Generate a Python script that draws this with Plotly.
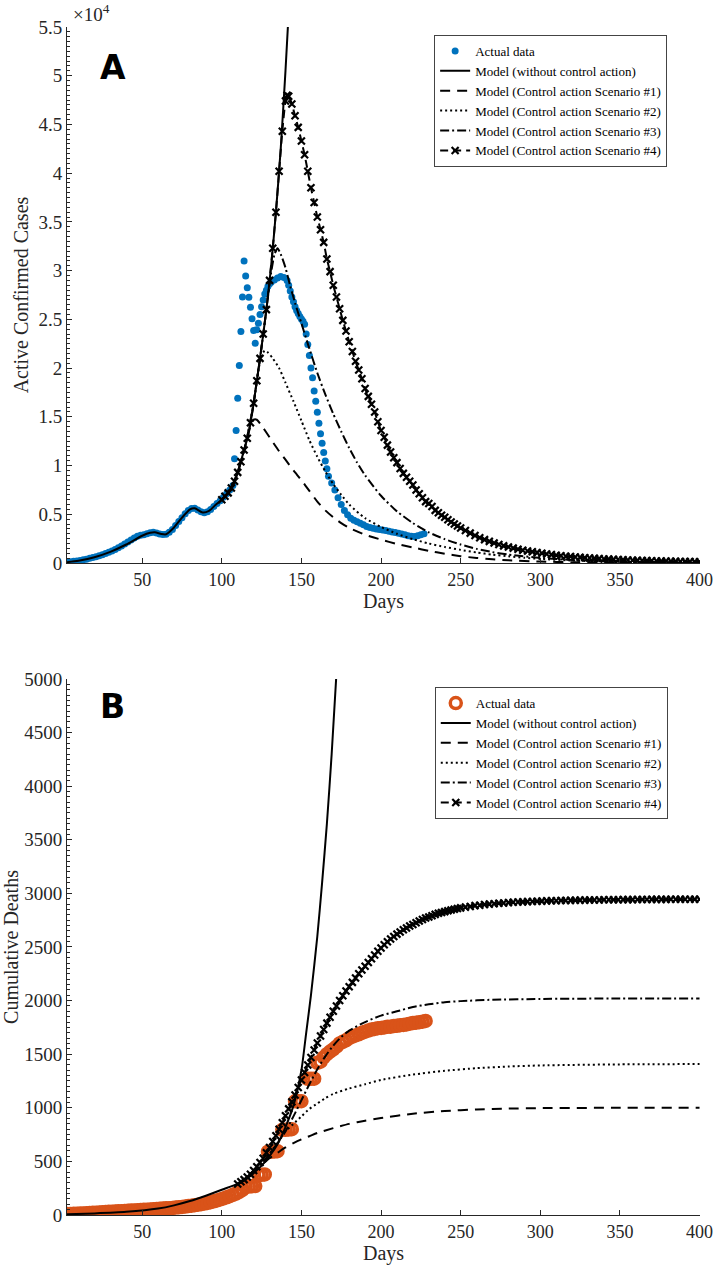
import plotly.graph_objects as go

# ---------------- Panel A: active confirmed cases ----------------
act_a_days = list(range(1, 108, 2)) + list(range(108, 132)) + [133, 135, 137, 139, 141] + list(range(142, 168)) + list(range(169, 228, 2))
act_a_vals = [60, 90, 130, 170, 220, 270, 330, 400, 480, 560,
              650, 750, 860, 980, 1100, 1240, 1390, 1560, 1740, 1940,
              2150, 2360, 2560, 2740, 2850, 2900, 3000, 3100, 3150, 3080,
              2980, 2920, 2950, 3150, 3450, 3850, 4250, 4650, 5050, 5400,
              5600, 5620, 5450, 5250, 5150, 5250, 5500, 5800, 6100, 6400,
              6750, 7100, 7500, 7950,
              10700, 13600, 16900, 20270, 23760, 27300, 31000, 29450, 28250, 27280,
              26250, 25070, 23870, 22560, 23940, 24600, 25500, 26300, 27000, 27600,
              28000, 28400, 28650, 28800,
              29050, 29250, 29400, 29300, 29000,
              28500, 27900, 27300, 26800, 26300, 25900, 25600, 25300, 25050, 24800,
              24500, 23500, 22430, 21300, 20000, 19000, 17640, 16610, 15480, 14350,
              13270, 12300, 11350, 10460, 9670, 8900,
              8200, 7500, 6700, 6000, 5400, 4950, 4600, 4380, 4230, 4080,
              3920, 3760, 3640, 3560, 3500, 3440, 3380, 3330, 3260, 3190,
              3120, 3060, 2980, 2900, 2810, 2740, 2730, 2800, 2900, 3000]

free_a_days = [1, 10, 20, 30, 40, 50, 55, 58, 62, 65, 70, 75, 80, 83, 88, 92, 96, 100, 104, 107,
               110, 113, 116, 119, 122, 125, 128, 131, 134, 137, 140, 142]
free_a_vals = [60, 230, 600, 1150, 1900, 2800, 3100, 3150, 2980, 2950, 3650, 4650, 5500, 5620, 5180,
               5350, 5950, 6500, 7200, 7950, 9300, 11000, 12800, 15300, 18700, 22200, 26000, 30500,
               36000, 42500, 50500, 56500]

s1_a_days = [100, 105, 110, 115, 118, 120, 122, 125, 130, 135, 140, 145, 150, 155, 160, 165, 170, 175,
             180, 190, 200, 210, 220, 230, 240, 250, 260, 270, 280, 300, 320, 340, 360, 380, 400]
s1_a_vals = [6500, 7400, 9300, 12200, 14000, 14700, 14700, 14100, 12900, 11700, 10600, 9500, 8500, 7400,
             6300, 5400, 4700, 4100, 3600, 2900, 2400, 1950, 1600, 1250, 950, 700, 520, 380, 280, 150,
             80, 45, 25, 15, 10]

s2_a_days = [100, 105, 110, 115, 120, 123, 125, 127, 129, 132, 136, 140, 145, 150, 155, 160, 165, 170,
             175, 180, 190, 200, 210, 220, 230, 240, 250, 260, 270, 280, 290, 300, 320, 340, 360, 380, 400]
s2_a_vals = [6500, 7400, 9300, 12200, 16400, 19800, 21300, 21800, 21600, 21000, 20000, 18500, 16600,
             14600, 12600, 10900, 9400, 8100, 7000, 6000, 4600, 3700, 3000, 2450, 2000, 1650, 1350, 1080,
             860, 690, 540, 420, 260, 160, 100, 60, 40]

s3_a_days = [100, 105, 110, 115, 120, 125, 128, 131, 133, 135, 137, 140, 143, 146, 150, 155, 160, 165,
             170, 175, 180, 185, 190, 200, 210, 220, 230, 240, 250, 260, 270, 280, 300, 320, 340, 360, 380, 400]
s3_a_vals = [6500, 7400, 9300, 12200, 16400, 22200, 26000, 29800, 31600, 32300, 31700, 30300, 28400,
             26700, 24600, 22000, 19500, 17300, 15300, 13500, 11800, 10300, 9000, 6900, 5300, 4100, 3150,
             2450, 1900, 1450, 1120, 870, 520, 320, 200, 120, 80, 50]

s4_a_days = list(range(100, 141, 2)) + [141, 142] + list(range(144, 251, 2)) + list(range(253, 401, 3))
s4_a_vals = [6500, 6850, 7200, 7700, 8400, 9300, 10400, 11600, 12800, 14400,
             16400, 18700, 21000, 23500, 26000, 29000, 32300, 36000, 40200, 44300,
             47400, 48000, 47900,
             47100, 45900, 44700, 43300, 41900, 40200, 38500, 37000, 35500, 34200,
             32900, 31200, 29900, 28500, 27300, 26100, 24900, 23800, 22700, 21700,
             20700, 19800, 18900, 17900, 17100, 16300, 15500, 14500, 13600, 12900,
             12100, 11400, 10800, 10300, 9700, 9200, 8800, 8400, 8000, 7500,
             7100, 6700, 6300, 6100, 5800, 5400, 5150, 4900, 4700, 4450,
             4200, 4000, 3800, 3600,
             3330, 3070, 2830, 2600, 2400, 2220, 2060, 1900, 1760, 1650,
             1530, 1420, 1320, 1240, 1150, 1070, 1000, 920, 860, 800,
             750, 700, 660, 620, 580, 540, 510, 480, 450, 420,
             400, 375, 350, 330, 310, 290, 275, 260, 245, 230,
             215, 205, 195, 185, 175, 165, 155, 148, 140, 130]

# ---------------- Panel B: cumulative deaths ----------------
act_b_days = list(range(1, 114, 2)) + [115, 117, 119, 121, 123, 125, 127, 129, 131, 133, 135, 138, 140,
                                       142, 144, 146, 148, 150, 154, 156, 158] + list(range(160, 229, 2))
act_b_vals = [8, 9, 10, 11, 12, 14, 15, 17, 18, 20,
              22, 24, 26, 28, 30, 31, 33, 35, 36, 38,
              40, 41, 43, 44, 46, 48, 50, 52, 54, 56,
              58, 60, 62, 64, 66, 69, 72, 75, 79, 83,
              87, 91, 96, 101, 107, 113, 120, 128, 136, 145,
              155, 165, 176, 188, 200, 215, 235,
              265, 265, 268, 270, 375, 375, 378, 590, 590, 592, 595, 795, 795,
              797, 800, 1060, 1060, 1062, 1270, 1270, 1272,
              1420, 1430, 1470, 1500, 1525, 1545, 1570, 1600, 1615, 1630,
              1650, 1665, 1675, 1685, 1700, 1710, 1720, 1730, 1735, 1742,
              1745, 1750, 1755, 1757, 1762, 1765, 1770, 1773, 1778, 1785,
              1790, 1794, 1798, 1803, 1810]

free_b_days = [1, 20, 40, 60, 70, 80, 90, 100, 110, 115, 120, 125, 130, 135, 140, 145, 150, 153, 156,
               160, 163, 166, 169, 172]
free_b_vals = [5, 15, 30, 60, 90, 130, 180, 235, 290, 330, 390, 460, 550, 660, 820, 1020, 1350, 1700,
               2050, 2600, 3100, 3650, 4300, 5050]

s1_b_days = [110, 115, 120, 125, 130, 135, 140, 145, 150, 155, 160, 170, 180, 190, 200, 220, 240, 260,
             280, 300, 350, 400]
s1_b_vals = [290, 340, 410, 470, 530, 580, 630, 670, 705, 735, 765, 810, 850, 880, 905, 945, 970, 985,
             993, 997, 1000, 1000]

s2_b_days = [110, 115, 120, 125, 130, 135, 140, 145, 150, 155, 160, 165, 170, 180, 190, 200, 220, 240,
             260, 280, 300, 350, 400]
s2_b_vals = [290, 340, 410, 480, 570, 680, 780, 850, 920, 990, 1040, 1090, 1130, 1180, 1220, 1260,
             1310, 1345, 1370, 1385, 1395, 1405, 1408]

s3_b_days = [110, 115, 120, 125, 130, 135, 140, 145, 150, 155, 160, 165, 170, 175, 180, 190, 200, 210,
             220, 230, 240, 250, 270, 300, 350, 400]
s3_b_vals = [290, 340, 410, 480, 570, 670, 780, 920, 1070, 1220, 1360, 1480, 1580, 1660, 1720, 1800,
             1860, 1900, 1940, 1965, 1985, 1995, 2008, 2015, 2020, 2020]

s4_b_days = list(range(110, 251, 2)) + list(range(253, 401, 3))
s4_b_vals = [290, 310, 330, 355, 380, 415, 450, 490, 530, 580,
             630, 685, 740, 800, 860, 925, 990, 1055, 1120, 1190,
             1260, 1330, 1400, 1470, 1540, 1605, 1670, 1730, 1790, 1845,
             1900, 1950, 2000, 2045, 2090, 2130, 2170, 2210, 2250, 2285,
             2320, 2355, 2390, 2425, 2460, 2490, 2520, 2548, 2575, 2598,
             2620, 2640, 2660, 2678, 2695, 2710, 2726, 2742, 2756, 2770,
             2780, 2792, 2804, 2814, 2822, 2830, 2838, 2845, 2852, 2859,
             2865,
             2872, 2878, 2886, 2890, 2896, 2900, 2904, 2908, 2911, 2914,
             2917, 2919, 2921, 2923, 2925, 2927, 2928, 2930, 2931, 2932,
             2933, 2934, 2935, 2936, 2937, 2937, 2938, 2938, 2939, 2940,
             2940, 2941, 2941, 2942, 2942, 2942, 2943, 2943, 2943, 2944,
             2944, 2944, 2944, 2945, 2945, 2945, 2945, 2945, 2945, 2945]

a_ytick_vals = [0, 5000, 10000, 15000, 20000, 25000, 30000, 35000, 40000, 45000, 50000, 55000]
a_ytick_text = ["0", "0.5", "1", "1.5", "2", "2.5", "3", "3.5", "4", "4.5", "5", "5.5"]
b_ytick_vals = [0, 500, 1000, 1500, 2000, 2500, 3000, 3500, 4000, 4500, 5000]
x_tick_vals = [50, 100, 150, 200, 250, 300, 350, 400]

names = ["Actual data", "Model (without control action)", "Model (Control action Scenario #1)",
         "Model (Control action Scenario #2)", "Model (Control action Scenario #3)",
         "Model (Control action Scenario #4)"]

BLUE = "#0072BD"
ORANGE = "#D95319"
SERIF = "Liberation Serif, Times New Roman, serif"
AXC = "#262626"

fig = go.Figure()


def add_models(xa, ya, leg, free, s1, s2, s3, s4):
    fig.add_trace(go.Scatter(x=free[0], y=free[1], mode="lines", name=names[1], xaxis=xa, yaxis=ya,
                             legend=leg, line=dict(color="black", width=2, shape="spline", smoothing=0.6)))
    fig.add_trace(go.Scatter(x=s1[0], y=s1[1], mode="lines", name=names[2], xaxis=xa, yaxis=ya,
                             legend=leg, line=dict(color="black", width=2, dash="10px,7px", shape="spline", smoothing=0.6)))
    fig.add_trace(go.Scatter(x=s2[0], y=s2[1], mode="lines", name=names[3], xaxis=xa, yaxis=ya,
                             legend=leg, line=dict(color="black", width=2, dash="2px,3px", shape="spline", smoothing=0.6)))
    fig.add_trace(go.Scatter(x=s3[0], y=s3[1], mode="lines", name=names[4], xaxis=xa, yaxis=ya,
                             legend=leg, line=dict(color="black", width=2, dash="9px,3px,2px,3px", shape="spline", smoothing=0.6)))
    fig.add_trace(go.Scatter(x=s4[0], y=s4[1], mode="lines+markers", name=names[5], xaxis=xa, yaxis=ya,
                             legend=leg, line=dict(color="black", width=2, dash="8px,5px", shape="spline", smoothing=0.6),
                             marker=dict(symbol="x-thin", size=7, line=dict(color="black", width=2.2))))


# Panel A
fig.add_trace(go.Scatter(x=act_a_days, y=act_a_vals, mode="markers", name=names[0], xaxis="x", yaxis="y",
                         legend="legend", marker=dict(color=BLUE, size=7)))
add_models("x", "y", "legend", (free_a_days, free_a_vals), (s1_a_days, s1_a_vals),
           (s2_a_days, s2_a_vals), (s3_a_days, s3_a_vals), (s4_a_days, s4_a_vals))

# Panel B
fig.add_trace(go.Scatter(x=act_b_days, y=act_b_vals, mode="markers", name=names[0], xaxis="x2", yaxis="y2",
                         legend="legend2",
                         marker=dict(symbol="circle-open", color=ORANGE, size=11, line=dict(color=ORANGE, width=3.5))))
add_models("x2", "y2", "legend2", (free_b_days, free_b_vals), (s1_b_days, s1_b_vals),
           (s2_b_days, s2_b_vals), (s3_b_days, s3_b_vals), (s4_b_days, s4_b_vals))

axis_common = dict(showline=True, linecolor=AXC, linewidth=1, mirror=False, ticks="inside",
                   ticklen=5, tickcolor=AXC, showgrid=False, zeroline=False, automargin=False,
                   ticklabeloverflow="allow",
                   tickfont=dict(family=SERIF, size=19, color=AXC))

xa_common = dict(axis_common, range=[2.8, 400.3], tickvals=x_tick_vals,
                 tickfont=dict(family=SERIF, size=18, color=AXC),
                 title=dict(text="Days", font=dict(family=SERIF, size=20, color=AXC), standoff=2))

leg_common = dict(xanchor="left", yanchor="top", bordercolor="#444444", borderwidth=1, bgcolor="white",
                  font=dict(family=SERIF, size=13, color="black"), tracegroupgap=0, itemwidth=30)

fig.update_layout(
    width=714, height=1267,
    margin=dict(l=67, r=14, t=27, b=52, autoexpand=False),
    plot_bgcolor="white", paper_bgcolor="white",
    xaxis=dict(xa_common, anchor="y"),
    yaxis=dict(axis_common, domain=[0.5488, 1.0], anchor="x", range=[0, 55000], tickvals=a_ytick_vals,
               ticktext=a_ytick_text,
               minor=dict(dtick=500, ticklen=3, ticks="inside", tickcolor=AXC),
               title=dict(text="Active Confirmed Cases", font=dict(family=SERIF, size=20, color=AXC), standoff=4)),
    xaxis2=dict(xa_common, anchor="y2"),
    yaxis2=dict(axis_common, domain=[0.0, 0.4512], anchor="x2", range=[0, 5000], tickvals=b_ytick_vals,
                minor=dict(dtick=50, ticklen=3, ticks="inside", tickcolor=AXC),
                title=dict(text="Cumulative Deaths", font=dict(family=SERIF, size=20, color=AXC), standoff=4)),
    legend=dict(leg_common, x=0.58, y=0.9933),
    legend2=dict(leg_common, x=0.581, y=0.4444),
    showlegend=True,
    annotations=[
        dict(text="<b>A</b>", x=0.0726, y=0.9655, xref="paper", yref="paper", xanchor="center",
             yanchor="middle", showarrow=False, font=dict(family="DejaVu Sans", size=33, color="black")),
        dict(text="<b>B</b>", x=0.0726, y=0.428, xref="paper", yref="paper", xanchor="center",
             yanchor="middle", showarrow=False, font=dict(family="DejaVu Sans", size=33, color="black")),
        dict(text="×10<sup>4</sup>", x=0.006, y=1.0, xref="paper", yref="paper", xanchor="left",
             yanchor="bottom", showarrow=False, font=dict(family=SERIF, size=19, color=AXC)),
    ],
)

fig.write_html("out.html", config={"displayModeBar": False},
               post_script="document.body.style.margin='0px';document.body.style.overflow='hidden';")
